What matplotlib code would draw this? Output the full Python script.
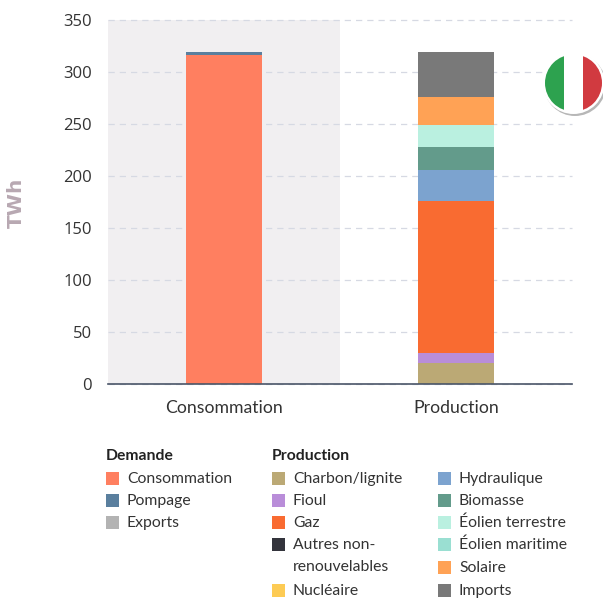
import matplotlib
matplotlib.use("Agg")
import matplotlib.pyplot as plt
from matplotlib.patches import Rectangle, Circle

plt.rcParams["font.family"] = ["Lato", "DejaVu Sans"]

categories = ["Consommation", "Production"]
demand_names = ["Consommation", "Pompage", "Exports"]
demand_values = [316.5, 3, 0]
demand_colors = ["#ff7f60", "#5a7f9e", "#b3b3b3"]
prod_names = ["Charbon/lignite", "Fioul", "Gaz", "Autres non-\nrenouvelables", "Nucléaire",
              "Hydraulique", "Biomasse", "Éolien terrestre", "Éolien maritime", "Solaire", "Imports"]
prod_values = [20, 10, 146, 0, 0, 30, 22, 21, 0, 27, 43.5]
prod_colors = ["#bba975", "#b98dd9", "#f96b31", "#33343c", "#fdcb54",
               "#7ca3cf", "#639b8b", "#baf0e0", "#9adfd2", "#ffa255", "#797979"]
yticks = [0, 50, 100, 150, 200, 250, 300, 350]

fig = plt.figure(figsize=(6.03, 5.99), dpi=100)
ax = fig.add_axes([108 / 603, 1 - 384 / 599, 464 / 603, 364 / 599])

#fond gris derriere la colonne demande
ax.axvspan(-0.5, 0.5, color="#f1eff1", zorder=0, lw=0)

bottom = 0
for v, c in zip(demand_values, demand_colors):
    ax.bar(0, v, 0.324, bottom=bottom, color=c, zorder=3)
    bottom += v
bottom = 0
for v, c in zip(prod_values, prod_colors):
    ax.bar(1, v, 0.324, bottom=bottom, color=c, zorder=3)
    bottom += v

ax.set_xlim(-0.5, 1.5)
ax.set_ylim(0, 350)
ax.set_yticks(yticks)
ax.set_xticks([0, 1])
ax.set_xticklabels(categories)
ax.tick_params(axis="both", length=0)
ax.tick_params(axis="x", pad=11.5, labelsize=12.7, labelcolor="#333333")
ax.tick_params(axis="y", pad=11.5, labelsize=12, labelcolor="#333333", labelfontfamily="Open Sans")
ax.grid(axis="y", color="#d6d9e3", linestyle=(0, (5, 4)), linewidth=0.9, zorder=1, clip_on=False)
for s in ["top", "right", "left"]:
    ax.spines[s].set_visible(False)
ax.spines["bottom"].set_color("#4a5568")
ax.spines["bottom"].set_linewidth(1.2)
ax.spines["bottom"].set_zorder(4)

# calque en pixels pour legende et drapeau
ov = fig.add_axes([0, 0, 1, 1])
ov.set_xlim(0, 603)
ov.set_ylim(599, 0)
ov.axis("off")
ov.patch.set_alpha(0)

ov.text(16, 203, "TWh", rotation=90, ha="center", va="center", fontsize=14.5,
        fontweight="bold", color="#b8a8b2", family="DejaVu Sans")

def legend_item(x, y, name, color):
    ov.add_patch(Rectangle((x, y - 6.5), 13, 13, color=color, lw=0))
    ov.text(x + 21, y + 1, name, va="center", fontsize=11.3, color="#333333")

ov.text(106, 456, "Demande", va="center", fontsize=11.3, fontweight="bold", color="#222222")
ov.text(272, 456, "Production", va="center", fontsize=11.3, fontweight="bold", color="#222222")

rows = [478, 500, 522, 544, 590]
for y, n, c in zip(rows, demand_names, demand_colors):
    legend_item(106, y, n, c)
for y, n, c in zip(rows, prod_names[:5], prod_colors[:5]):
    if "\n" in n:
        ov.add_patch(Rectangle((272, y - 6.5), 13, 13, color=c, lw=0))
        first, second = n.split("\n")
        ov.text(293, y + 1, first, va="center", fontsize=11.3, color="#333333")
        ov.text(293, y + 23, second, va="center", fontsize=11.3, color="#333333")
    else:
        legend_item(272, y, n, c)
for y, n, c in zip([478, 500, 522, 544, 567, 590], prod_names[5:], prod_colors[5:]):
    legend_item(438, y, n, c)

# drapeau
cx, cy, r = 573.5, 83, 28.5
ov.add_patch(Circle((cx + 1.5, cy + 2), r + 2.5, color="#999999", lw=0, alpha=0.7, clip_on=False))
ov.add_patch(Circle((cx, cy), r + 2.5, color="white", lw=0, clip_on=False))
clip = Circle((cx, cy), r, transform=ov.transData)
for x0, w, c in [(cx - r, 19, "#2da24f"), (cx - 9.5, 19, "#ffffff"), (cx + 9.5, 19, "#d13a40")]:
    st = ov.add_patch(Rectangle((x0, cy - r), w, 2 * r, color=c, lw=0))
    st.set_clip_path(clip)

fig.savefig("out.png", dpi=100)
